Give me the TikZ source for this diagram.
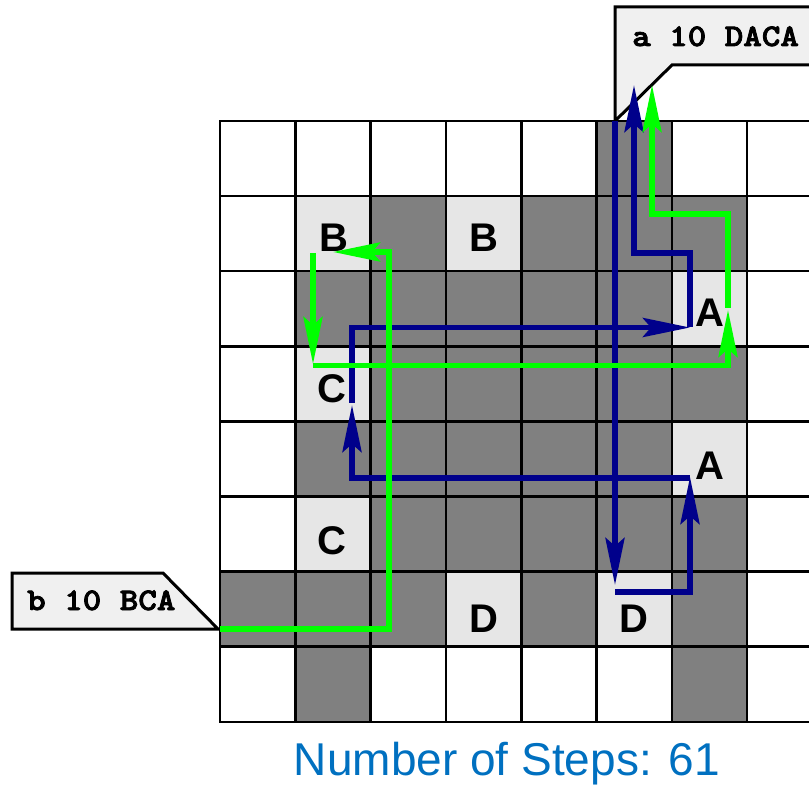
\documentclass[tikz,border=0pt]{standalone}
\usepackage{fontspec}
\usepackage{graphicx}
\setmainfont{Liberation Sans}
\newfontfamily\tagfont{lmmonolt10-bold.otf}[FakeBold=2.4]
\usetikzlibrary{arrows.meta}

\definecolor{cellDark}{HTML}{808080}
\definecolor{cellLight}{HTML}{E6E6E6}
\definecolor{calloutFill}{HTML}{F0F0F0}
\definecolor{routeBlue}{HTML}{00008B}
\definecolor{routeGreen}{HTML}{00FF00}
\definecolor{captionBlue}{HTML}{0070C0}

% wide slab typewriter text for the agent tags
\newcommand{\tagtext}[1]{\scalebox{1.12}[1]{\fontsize{31.5}{31.5}\selectfont\tagfont #1}}

\tikzset{
  darkcell/.style={fill=cellDark},
  lightcell/.style={fill=cellLight},
  gridline/.style={draw=black, line width=2.6pt, line cap=rect},
  goal/.style={inner sep=0pt, font=\fontsize{40}{40}\selectfont\bfseries, anchor=base},
  tag/.style={inner sep=0pt, anchor=base west},
  callout/.style={draw=black, fill=calloutFill, line width=3pt, line join=miter},
  route/.style={line width=5.6pt, line join=miter, line cap=butt,
    -{Stealth[length=47pt, width=19pt, inset=8pt]}},
  blueroute/.style={route, draw=routeBlue, fill=none},
  greenroute/.style={route, draw=routeGreen, fill=none},
  caption/.style={inner sep=0pt, text=captionBlue, font=\fontsize{46}{46}\selectfont, anchor=base}
}

\begin{document}
\begin{tikzpicture}[x=1pt, y=-1pt]
\useasboundingbox (0,0) rectangle (809,786);
\clip (0,0) rectangle (809,786);

% warehouse floor: blocked cells
\foreach \c/\r in {5/0,
    2/1, 4/1, 5/1, 6/1,
    1/2, 2/2, 3/2, 4/2, 5/2,
    2/3, 3/3, 4/3, 5/3, 6/3,
    1/4, 2/4, 3/4, 4/4, 5/4,
    2/5, 3/5, 4/5, 5/5, 6/5,
    0/6, 1/6, 2/6, 4/6, 6/6,
    1/7, 6/7}
  \fill[darkcell] ({220+75.3*\c},{121+75.1*\r}) rectangle ++(75.3,75.1);

% goal cells
\foreach \c/\r in {1/1, 3/1, 6/2, 1/3, 6/4, 1/5, 3/6, 5/6}
  \fill[lightcell] ({220+75.3*\c},{121+75.1*\r}) rectangle ++(75.3,75.1);

% grid lines
\foreach \i in {0,...,8}
  \draw[gridline] ({220+75.3*\i},121) -- ({220+75.3*\i},722);
\foreach \j in {0,...,8}
  \draw[gridline] (220,{121+75.1*\j}) -- (823,{121+75.1*\j});

% goal labels
\node[goal] (B1) at (333.5,252) {B};
\node[goal] (B2) at (484,252) {B};
\node[goal] (A1) at (709.5,327) {A};
\node[goal] (C1) at (332,402.5) {C};
\node[goal] (A2) at (709.5,479) {A};
\node[goal] (C2) at (332,554.5) {C};
\node[goal] (D1) at (484,632) {D};
\node[goal] (D2) at (634,632) {D};

% callouts of the two agents
\draw[callout] (615,7) -- (845,7) -- (845,65) -- (672,65) -- (615,121) -- cycle;
\node[tag] (tagA) at (632,46) {\tagtext{a 10 DACA}};
\draw[callout] (12,573) -- (163,573) -- (218,629) -- (12,629) -- cycle;
\node[tag] (tagB) at (27,610) {\tagtext{b 10 BCA}};

% route of agent a: D, A, C, A, back home
\coordinate (aStart) at (615,121);
\coordinate (aD)     at (615,585);
\coordinate (aD0)    at (615,592);
\coordinate (aD1)    at (690,592);
\coordinate (aA)     at (690,477);
\coordinate (aA0)    at (690,478);
\coordinate (aA1)    at (352,478);
\coordinate (aC)     at (352,405);
\coordinate (aC0)    at (352,403);
\coordinate (aC1)    at (352,327.5);
\coordinate (aA2)    at (690,327.5);
\coordinate (aA3)    at (690,253);
\coordinate (aA4)    at (634,253);
\coordinate (aHome)  at (634,85);
\draw[blueroute] (aStart) -- (aD);
\draw[blueroute] (aD0) -- (aD1) -- (aA);
\draw[blueroute] (aA0) -- (aA1) -- (aC);
\draw[blueroute] (aC0) -- (aC1) -- (aA2);
\draw[blueroute] (aA2) -- (aA3) -- (aA4) -- (aHome);

% route of agent b: B, C, A, then to a's callout
\coordinate (bStart) at (220,629);
\coordinate (b1)     at (389,629);
\coordinate (b2)     at (389,252);
\coordinate (bB)     at (333,252);
\coordinate (bB0)    at (313,253);
\coordinate (bC)     at (313,364);
\coordinate (bC0)    at (313,365.5);
\coordinate (bC1)    at (728,365.5);
\coordinate (bA)     at (728,310);
\coordinate (bA0)    at (728,308);
\coordinate (bA1)    at (728,214);
\coordinate (bA2)    at (652,214);
\coordinate (bEnd)   at (652,85);
\draw[greenroute] (bStart) -- (b1) -- (b2) -- (bB);
\draw[greenroute] (bB0) -- (bC);
\draw[greenroute] (bC0) -- (bC1) -- (bA);
\draw[greenroute] (bA0) -- (bA1) -- (bA2) -- (bEnd);

% step counter
\node[caption] (steps) at (507,775) {Number of Steps: 61};
\end{tikzpicture}
\end{document}
